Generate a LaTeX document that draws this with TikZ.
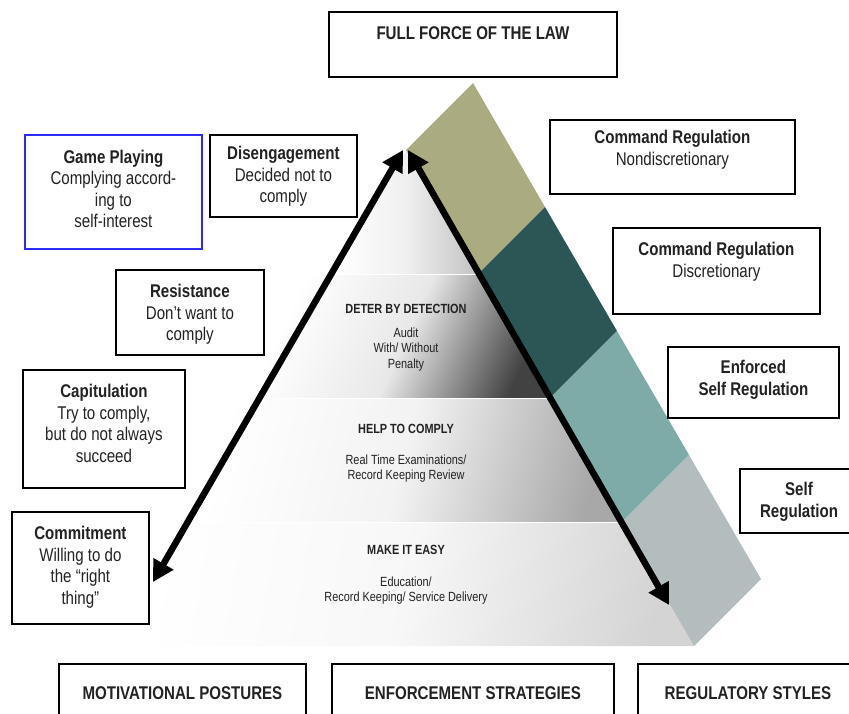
\documentclass[tikz,border=0pt]{standalone}
\usepackage{fontspec}
\setmainfont{Liberation Sans}[FakeStretch=0.82]
\usetikzlibrary{positioning,arrows.meta}
\definecolor{lawolive}{HTML}{ABAB82}
\definecolor{discteal}{HTML}{2C5656}
\definecolor{enfteal}{HTML}{7EABA8}
\definecolor{selfgray}{HTML}{B3BDBD}
\definecolor{inktext}{HTML}{222222}
\definecolor{gameblue}{HTML}{2B2BF0}
\tikzset{
    postbox/.style={draw,line width=1.8pt,anchor=north west,inner sep=0pt},
    boxtext/.style={align=center,inner sep=0pt,text=inktext,font=\fontsize{18.4}{21.5}\selectfont},
    layertitle/.style={anchor=base,inner sep=0pt,text=inktext,font=\bfseries\fontsize{13.3}{15.5}\selectfont},
    layertext/.style={anchor=north,align=center,inner sep=0pt,text=inktext,font=\fontsize{13.3}{15.5}\selectfont},
    bigarrow/.style={line width=6.5pt,{Triangle[length=21pt,width=22pt]}-{Triangle[length=21pt,width=22pt]}}
}
\begin{document}
\begin{tikzpicture}[x=1pt,y=-1pt]
        \useasboundingbox (0,0) rectangle (849,713);
        \shade[left color=white,right color=black!24,middle color=black!6] (406,150) -- (478,274) -- (334,274) -- cycle;
        \shade[left color=white,right color=black!74,middle color=black!9,shading angle=66] (262,274) -- (478,274) -- (550,398) -- (262,398) -- cycle;
        \shade[left color=white,right color=black!34,middle color=black!5,shading angle=76] (190,398) -- (550,398) -- (622,522) -- (190,522) -- cycle;
        \shade[left color=white,right color=black!17,middle color=black!3,shading angle=80] (118,522) -- (622,522) -- (694,646) -- (118,646) -- cycle;
        \draw[white,line width=1pt] (262,274) -- (478,274) (190,398) -- (550,398) (118,522) -- (622,522);
        \fill[lawolive] (406,150) -- (473,83) -- (545,207) -- (478,274) -- cycle;
        \fill[discteal] (478,274) -- (545,207) -- (617,331) -- (550,398) -- cycle;
        \fill[enfteal] (550,398) -- (617,331) -- (689,455) -- (622,522) -- cycle;
        \fill[selfgray] (622,522) -- (689,455) -- (761,579) -- (694,646) -- cycle;
        \coordinate (lt) at (403,150);
        \coordinate (lb) at (153,582);
        \coordinate (rt) at (408,150);
        \coordinate (rb) at (669,605);
        \begin{scope}[every edge/.style={draw,bigarrow}]
            \path
                (lb) edge (lt)
                (rt) edge (rb);
        \end{scope}
        \begin{scope}[every node/.style={postbox}]
            \node[draw=gameblue,minimum width=177pt,minimum height=114pt] (game) at (24,134) {};
            \node[minimum width=147pt,minimum height=82pt] (diseng) at (209,134) {};
            \node[minimum width=148pt,minimum height=85pt] (resist) at (115,269) {};
            \node[minimum width=162pt,minimum height=118pt] (capit) at (22,369) {};
            \node[minimum width=137pt,minimum height=112pt] (commit) at (11,511) {};
            \node[minimum width=288pt,minimum height=65pt] (fullforce) at (328,11) {};
            \node[minimum width=245pt,minimum height=74pt] (cmdnon) at (549,119) {};
            \node[minimum width=207pt,minimum height=86pt] (cmddisc) at (612,227) {};
            \node[minimum width=171pt,minimum height=71pt] (enfself) at (667,346) {};
            \node[minimum width=121pt,minimum height=64pt] (selfreg) at (739,468) {};
            \node[minimum width=247pt,minimum height=70pt] (motiv) at (58,663) {};
            \node[minimum width=282pt,minimum height=70pt] (strat) at (331,663) {};
            \node[minimum width=222pt,minimum height=70pt] (styles) at (637,663) {};
        \end{scope}
        \node[boxtext,below=15.8pt of game.north] (gametxt) {{\bfseries Game Playing}\\Complying accord-\\ing to\\self-interest};
        \node[boxtext,below=12pt of diseng.north] (disengtxt) {{\bfseries Disengagement}\\Decided not to\\comply};
        \node[boxtext,below=15pt of resist.north] (resisttxt) {{\bfseries Resistance}\\Don’t want to\\comply};
        \node[boxtext,below=15pt of capit.north] (capittxt) {{\bfseries Capitulation}\\Try to comply,\\but do not always\\succeed};
        \node[boxtext,below=15pt of commit.north] (committxt) {{\bfseries Commitment}\\Willing to do\\the “right\\thing”};
        \node[boxtext,below=15pt of fullforce.north,font=\bfseries\fontsize{18.4}{21.5}\selectfont] (fullforcetxt) {FULL FORCE OF THE LAW};
        \node[boxtext,below=11pt of cmdnon.north] (cmdnontxt) {{\bfseries Command Regulation}\\Nondiscretionary};
        \node[boxtext,below=15pt of cmddisc.north] (cmddisctxt) {{\bfseries Command Regulation}\\Discretionary};
        \node[boxtext,below=14pt of enfself.north,font=\bfseries\fontsize{18.4}{21.5}\selectfont] (enfselftxt) {Enforced\\Self Regulation};
        \node[boxtext,font=\bfseries\fontsize{18.4}{21.5}\selectfont,anchor=north] (selfregtxt) at (799,482) {Self\\Regulation};
        \node[boxtext,below=23pt of motiv.north,font=\bfseries\fontsize{18.4}{21.5}\selectfont] (motivtxt) {MOTIVATIONAL POSTURES};
        \node[boxtext,below=23pt of strat.north,font=\bfseries\fontsize{18.4}{21.5}\selectfont] (strattxt) {ENFORCEMENT STRATEGIES};
        \node[boxtext,font=\bfseries\fontsize{18.4}{21.5}\selectfont,anchor=north] (stylestxt) at (748,686) {REGULATORY STYLES};
        \node[layertitle] (detertitle) at (406,313) {DETER BY DETECTION};
        \node[layertext] (detertxt) at (406,327.5) {Audit\\With/ Without\\Penalty};
        \node[layertitle] (helptitle) at (406,433) {HELP TO COMPLY};
        \node[layertext] (helptxt) at (406,454.5) {Real Time Examinations/\\Record Keeping Review};
        \node[layertitle] (easytitle) at (406,554) {MAKE IT EASY};
        \node[layertext] (easytxt) at (406,576.5) {Education/\\Record Keeping/ Service Delivery};
\end{tikzpicture}
\end{document}
